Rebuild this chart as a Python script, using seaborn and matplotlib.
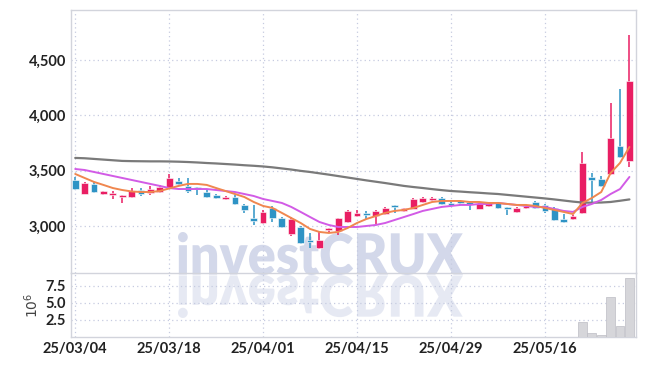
import numpy as np
import matplotlib
matplotlib.use("Agg")
import matplotlib.pyplot as plt
import seaborn as sns
from matplotlib.textpath import TextPath
from matplotlib.patches import PathPatch
from matplotlib.font_manager import FontProperties
from matplotlib.transforms import Affine2D, IdentityTransform

# --- datos (precio diario, 60 sesiones) ---
opens = [3416, 3290, 3380, 3290, 3280, 3262, 3262, 3325, 3298, 3307,
         3343, 3398, 3361, 3343, 3307, 3280, 3244, 3262, 3190, 3072,
         3027, 3163, 3072, 2928, 2991, 2873, 2801, 2964, 2955, 3036,
         3090, 3108, 3090, 3108, 3181, 3136, 3154, 3217, 3235, 3253,
         3208, 3217, 3208, 3154, 3181, 3208, 3163, 3127, 3163, 3217,
         3190, 3163, 3063, 3063, 3117, 3443, 3425, 3470, 3723, 3588]
highs = [3440, 3395, 3398, 3320, 3316, 3280, 3343, 3340, 3361, 3370,
         3470, 3434, 3434, 3352, 3334, 3290, 3270, 3280, 3200, 3190,
         3145, 3181, 3085, 3080, 3000, 2937, 2946, 2985, 3075, 3140,
         3145, 3136, 3140, 3168, 3190, 3165, 3250, 3265, 3262, 3258,
         3215, 3230, 3215, 3205, 3212, 3215, 3168, 3170, 3190, 3225,
         3195, 3170, 3108, 3095, 3669, 3479, 3452, 4112, 4238, 4727]
lows = [3325, 3285, 3300, 3280, 3244, 3208, 3253, 3270, 3280, 3300,
        3335, 3370, 3298, 3280, 3255, 3245, 3235, 3190, 3117, 3009,
        3020, 3036, 2980, 2910, 2840, 2801, 2790, 2937, 2920, 3030,
        3085, 3063, 3018, 3100, 3117, 3130, 3150, 3210, 3226, 3190,
        3185, 3190, 3145, 3150, 3170, 3150, 3099, 3120, 3155, 3155,
        3117, 3045, 3030, 3055, 3110, 3208, 3355, 3465, 3615, 3533]
closes = [3334, 3390, 3307, 3307, 3290, 3271, 3316, 3290, 3334, 3352,
          3434, 3380, 3316, 3334, 3262, 3253, 3262, 3199, 3145, 3045,
          3127, 3072, 2991, 3063, 2846, 2855, 2873, 2982, 3072, 3136,
          3117, 3099, 3136, 3163, 3172, 3154, 3244, 3253, 3244, 3199,
          3190, 3208, 3199, 3199, 3208, 3163, 3154, 3163, 3181, 3163,
          3136, 3054, 3036, 3090, 3570, 3416, 3361, 3796, 3624, 4311]
# volumen en millones
volumes = [0.02, 0.01, 0.02, 0.01, 0.01, 0.02, 0.01, 0.01, 0.02, 0.01,
           0.03, 0.02, 0.01, 0.01, 0.02, 0.01, 0.01, 0.02, 0.02, 0.03,
           0.02, 0.02, 0.02, 0.03, 0.03, 0.03, 0.02, 0.02, 0.02, 0.03,
           0.02, 0.01, 0.02, 0.02, 0.01, 0.01, 0.02, 0.02, 0.01, 0.02,
           0.01, 0.01, 0.01, 0.02, 0.01, 0.01, 0.02, 0.01, 0.01, 0.02,
           0.02, 0.03, 0.02, 0.02, 2.2, 0.65, 0.35, 5.9, 1.6, 8.6]
ma_corta = [3470, 3434, 3398, 3371, 3343, 3325, 3312, 3307, 3307, 3316,
            3339, 3362, 3380, 3380, 3371, 3343, 3316, 3289, 3262, 3217,
            3181, 3163, 3118, 3072, 3027, 2973, 2946, 2937, 2946, 2982,
            3027, 3063, 3090, 3118, 3136, 3145, 3163, 3190, 3217, 3226,
            3226, 3226, 3217, 3217, 3208, 3208, 3199, 3190, 3190, 3181,
            3163, 3145, 3127, 3108, 3208, 3253, 3307, 3479, 3570, 3714]
ma_media = [3515, 3506, 3488, 3470, 3452, 3434, 3416, 3398, 3380, 3362,
            3343, 3334, 3334, 3334, 3334, 3325, 3316, 3307, 3289, 3271,
            3244, 3226, 3208, 3172, 3127, 3081, 3036, 3009, 2991, 2991,
            2991, 3000, 3009, 3027, 3054, 3081, 3108, 3136, 3154, 3172,
            3181, 3190, 3190, 3199, 3199, 3208, 3199, 3190, 3181, 3172,
            3172, 3154, 3136, 3127, 3172, 3199, 3235, 3289, 3334, 3443]
ma_larga = [3615, 3612, 3606, 3600, 3594, 3588, 3586, 3585, 3584, 3584,
            3583, 3581, 3578, 3574, 3569, 3565, 3560, 3555, 3549, 3544,
            3538, 3530, 3520, 3510, 3498, 3488, 3476, 3464, 3451, 3438,
            3425, 3412, 3400, 3388, 3375, 3362, 3352, 3343, 3333, 3324,
            3316, 3311, 3305, 3300, 3294, 3289, 3281, 3273, 3265, 3257,
            3249, 3240, 3230, 3220, 3212, 3210, 3212, 3217, 3228, 3240]
posiciones_fechas = [0, 10, 20, 30, 40, 50]
etiquetas_fechas = ["25/03/04", "25/03/18", "25/04/01", "25/04/15", "25/04/29", "25/05/16"]

ROJO = "#e91e63"
AZUL = "#2e93c5"
GRILLA = "#c6cbe0"
BORDE = "#d2d4dc"

sns.set_theme(style="white")
plt.rcParams["font.family"] = ["Lato", "DejaVu Sans"]

W, H = 645, 366
fig = plt.figure(figsize=(W / 100, H / 100), dpi=100)
fig.patch.set_facecolor("white")
ax = fig.add_axes([71 / W, (H - 273) / H, 565 / W, 263 / H])
ax_vol = fig.add_axes([71 / W, (H - 337) / H, 565 / W, 64 / H], sharex=ax)
for a in (ax, ax_vol):
    a.set_facecolor("none")
    for s in a.spines.values():
        s.set_color(BORDE)
        s.set_linewidth(1)
    a.grid(True, linestyle=(0, (1, 2.5)), color=GRILLA, linewidth=0.9)
    a.tick_params(length=0, labelsize=10.5, labelcolor="#222222")

idx = np.arange(len(opens))
o, h, l, c = map(np.array, (opens, highs, lows, closes))
colores = np.where(c >= o, ROJO, AZUL)

# velas
ax.vlines(idx, l, h, colors=colores, linewidth=1.1, zorder=3)
ax.bar(idx, np.maximum(np.abs(c - o), 22), bottom=np.minimum(o, c), width=0.72,
       color=colores, edgecolor="white", linewidth=0.4, zorder=4)

# medias móviles
sns.lineplot(x=idx, y=ma_larga, color="#7a7a7a", linewidth=1.6, ax=ax, zorder=5)
sns.lineplot(x=idx, y=ma_media, color="#d25be6", linewidth=1.4, ax=ax, zorder=5)
sns.lineplot(x=idx, y=ma_corta, color="#f0874f", linewidth=1.4, ax=ax, zorder=6)

ax.set_ylim(2575, 4952)
ax.set_yticks([3000, 3500, 4000, 4500])
ax.set_yticklabels(["3,000", "3,500", "4,000", "4,500"], fontweight="bold")
ax.set_xlim(-0.45, 59.7)
ax.tick_params(labelbottom=False)
ax.set_xlabel("")
ax.set_ylabel("")

# volumen
sns.barplot(x=idx, y=volumes, color="#d5d5db", edgecolor="#bdbdc4", linewidth=0.5,
            width=0.95, native_scale=True, ax=ax_vol, zorder=3)
ax_vol.set_ylim(0, 9.36)
ax_vol.set_yticks([2.5, 5.0, 7.5])
ax_vol.set_yticklabels(["2.5", "5.0", "7.5"], fontweight="bold")
ax_vol.set_xlim(-0.45, 59.7)
ax_vol.set_xticks(posiciones_fechas)
ax_vol.set_xticklabels(etiquetas_fechas, fontweight="bold")
ax_vol.set_ylabel(r"$10^6$", fontsize=10, color="#444444", labelpad=3)
ax_vol.set_xlabel("")
ax_vol.spines["top"].set_visible(False)

# marca de agua con reflejo
fp = FontProperties(family="Lato", weight="heavy")
ruta = TextPath((0, 0), "investCRUX", size=50, prop=fp)
ext = ruta.get_extents()
sx = 285 / ext.width
sy = 43 / ext.height
base = H - 275
t_arriba = Affine2D().translate(-ext.x0, -ext.y0).scale(sx, sy).translate(178, base)
t_reflejo = Affine2D().translate(-ext.x0, -ext.y0).scale(sx, -sy).translate(178, base)
for tr, alfa in ((t_arriba, 1.0), (t_reflejo, 0.55)):
    p = PathPatch(tr.transform_path(ruta), facecolor="#d3d8ea", edgecolor="none",
                  alpha=alfa, transform=IdentityTransform(), zorder=-1)
    fig.add_artist(p)

fig.savefig("out.png", dpi=100, facecolor="white")
